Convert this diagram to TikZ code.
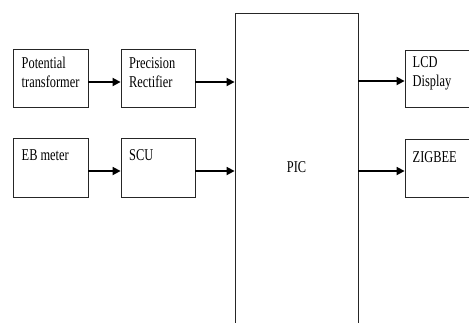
\documentclass[tikz,border=0pt]{standalone}
\usepackage{fontspec}
\setmainfont{Liberation Serif}
\usetikzlibrary{arrows.meta}
\newcommand\narrow[1]{\scalebox{0.75}[1]{#1}}
\tikzset{
  block/.style={draw=black!85, line width=0.8pt, fill=white, rectangle, inner sep=0pt},
  txt/.style={anchor=base west, inner sep=0pt, font=\fontsize{16.5}{19}\selectfont},
  ctxt/.style={anchor=base, inner sep=0pt, font=\fontsize{16.5}{19}\selectfont},
  arr/.style={line width=1.7pt, -{Triangle[length=8pt,width=8pt]}}
}
\begin{document}
\begin{tikzpicture}[x=1pt,y=-1pt]
\useasboundingbox (0,0) rectangle (469,322);
\clip (0,0) rectangle (469,322);
\fill[white] (0,0) rectangle (469,322);

% blocks
\node[block, minimum width=75pt, minimum height=57.5pt] (pt)  at (50.5,78.25) {};
\node[block, minimum width=74pt, minimum height=57.5pt] (pr)  at (158,78.25) {};
\node[block, minimum width=75pt, minimum height=58.5pt] (eb)  at (50.5,167.75) {};
\node[block, minimum width=74pt, minimum height=58.5pt] (scu) at (158,167.75) {};
\node[block, minimum width=123pt, minimum height=330pt] (pic) at (296.5,178) {};
\node[block, minimum width=80pt, minimum height=57pt] (lcd) at (445,78.5) {};
\node[block, minimum width=80pt, minimum height=58pt] (zig) at (445,168.25) {};

% labels
\node[txt] (t1a) at (21.5,68)   {\narrow{Potential}};
\node[txt] (t1b) at (21.5,87.5) {\narrow{transformer}};
\node[txt] (t2a) at (129,68)    {\narrow{Precision}};
\node[txt] (t2b) at (129,87.5)  {\narrow{Rectifier}};
\node[txt] (t3)  at (21.5,160)  {\narrow{EB meter}};
\node[txt] (t4)  at (129,160)   {\narrow{SCU}};
\node[ctxt] (t5) at (296.5,172) {\narrow{PIC}};
\node[txt] (t6a) at (412.5,67)  {\narrow{LCD}};
\node[txt] (t6b) at (412.5,86)  {\narrow{Display}};
\node[txt] (t7)  at (412.5,162) {\narrow{ZIGBEE}};

% connector rows
\coordinate (r1) at (0,82);
\coordinate (r2) at (0,171);
\coordinate (q1) at (0,81);

\draw[arr] (pt.east |- r1) -- (pr.west |- r1);
\draw[arr] (pr.east |- r1) -- (pic.west |- r1);
\draw[arr] (eb.east |- r2) -- (scu.west |- r2);
\draw[arr] (scu.east |- r2) -- (pic.west |- r2);
\draw[arr] (pic.east |- q1) -- (lcd.west |- q1);
\draw[arr] (pic.east |- r2) -- (zig.west |- r2);
\end{tikzpicture}
\end{document}
